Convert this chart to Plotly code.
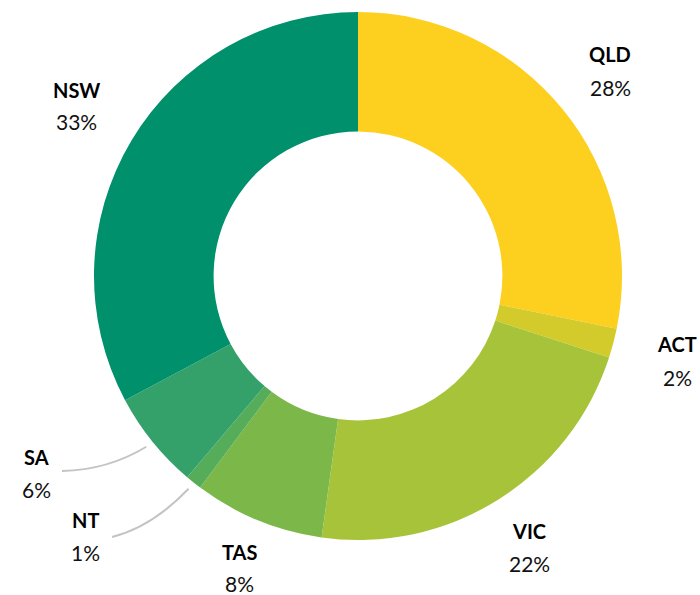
import math
import plotly.graph_objects as go

# ---- data ----
regions = ["QLD", "ACT", "VIC", "TAS", "NT", "SA", "NSW"]
shares = [28.2, 1.8, 22.2, 8.0, 1.0, 6.0, 32.8]
pct_labels = ["28%", "2%", "22%", "8%", "1%", "6%", "33%"]
colors = ["#FDCF1F", "#D3CB2B", "#A7C33A", "#7CB74A", "#55AD5A", "#35A16A", "#00906C"]

# ---- layout / style ----
W, H = 700, 595
CX, CY, R = 358, 276, 264
HOLE = 0.547
# label centres in pixels (name line, percent line)
label_pos = {
    "QLD": (610, 54, 87),
    "ACT": (677, 344, 377),
    "VIC": (529, 531, 563),
    "TAS": (239, 552, 583),
    "NT": (85, 520, 552),
    "SA": (36, 457, 489),
    "NSW": (76, 90, 122),
}
# leader lines: (label-side start in px, control point in px)
leaders = {
    "SA": ((62, 471), (108, 470)),
    "NT": ((112, 537), (152, 527)),
}
FONT = "Lato"


def px(x):
    return x / W


def py(y):
    return 1 - y / H


fig = go.Figure(
    go.Pie(
        labels=regions,
        values=shares,
        sort=False,
        direction="clockwise",
        rotation=0,
        hole=HOLE,
        marker=dict(colors=colors, line=dict(width=0)),
        textinfo="none",
        hoverinfo="label+percent",
        domain=dict(x=[px(CX - R), px(CX + R)], y=[py(CY + R), py(CY - R)]),
    )
)

annotations = []
for name, pct in zip(regions, pct_labels):
    x, y1, y2 = label_pos[name]
    annotations.append(dict(x=px(x), y=py(y1), xref="paper", yref="paper", text=name,
                            showarrow=False, xanchor="center", yanchor="middle",
                            font=dict(family=FONT, size=20, color="#000000", weight=700)))
    annotations.append(dict(x=px(x), y=py(y2), xref="paper", yref="paper", text=pct,
                            showarrow=False, xanchor="center", yanchor="middle",
                            font=dict(family=FONT, size=21, color="#111111", weight=400)))

# leader lines ending just outside the slice, at the slice mid-angle
total = sum(shares)
cum = 0
mid_angle = {}
for name, v in zip(regions, shares):
    mid_angle[name] = (cum + v / 2) / total * 360
    cum += v

shapes = []
for name, ((sx, sy), (qx, qy)) in leaders.items():
    a = math.radians(mid_angle[name])
    ex = CX + (R + 8) * math.sin(a)
    ey = CY - (R + 8) * math.cos(a)
    path = f"M {px(sx)},{py(sy)} Q {px(qx)},{py(qy)} {px(ex)},{py(ey)}"
    shapes.append(dict(type="path", path=path, xref="paper", yref="paper",
                       line=dict(color="#C4C4C4", width=2)))

fig.update_layout(
    width=W, height=H,
    margin=dict(l=0, r=0, t=0, b=0),
    paper_bgcolor="white", plot_bgcolor="white",
    showlegend=False,
    annotations=annotations,
    shapes=shapes,
)

fig.write_html("out.html")
